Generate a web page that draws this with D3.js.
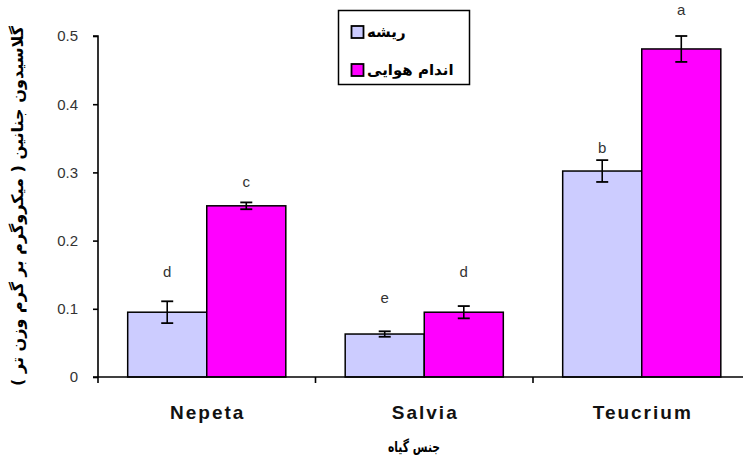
<!DOCTYPE html>
<html><head><meta charset="utf-8">
<script src="https://cdn.jsdelivr.net/npm/d3@7/dist/d3.min.js"></script>
<style>body{margin:0;background:#fff}svg{display:block}</style>
</head><body>
<svg id="c" width="743" height="465"></svg>
<script>
const categories = ["Nepeta", "Salvia", "Teucrium"];
const seriesNames = ["ریشه", "اندام هوایی"];
const rootValues = [0.095, 0.063, 0.302];
const rootErrors = [0.016, 0.004, 0.016];
const rootLetters = ["d", "e", "b"];
const rootLetterY = [0.155, 0.116, 0.336];
const shootValues = [0.251, 0.095, 0.481];
const shootErrors = [0.005, 0.009, 0.019];
const shootLetters = ["c", "d", "a"];
const shootLetterY = [0.287, 0.155, 0.538];
const yTicks = [0, 0.1, 0.2, 0.3, 0.4, 0.5];
const yTitle = "گلاسیدون جنانین ( میکروگرم بر گرم وزن تر )";
const xTitle = "جنس گیاه";
const colors = ["#ccccff", "#ff00ff"];

const svg = d3.select("#c");
const x0 = d3.scaleBand().domain(categories).range([98, 750.5]).paddingInner(0.273).paddingOuter(0.1365);
const x1 = d3.scaleBand().domain([0, 1]).range([0, x0.bandwidth()]);
const y = d3.scaleLinear().domain([0, 0.5]).range([377, 36]);

const series = [
  {vals: rootValues, errs: rootErrors, letters: rootLetters, ly: rootLetterY},
  {vals: shootValues, errs: shootErrors, letters: shootLetters, ly: shootLetterY}
];

series.forEach((s, si) => {
  const g = svg.append("g");
  categories.forEach((c, i) => {
    const bx = x0(c) + x1(si);
    const bw = x1.bandwidth();
    g.append("rect").attr("x", bx).attr("y", y(s.vals[i])).attr("width", bw)
      .attr("height", y(0) - y(s.vals[i])).attr("fill", colors[si])
      .attr("stroke", "#000").attr("stroke-width", 1.5);
    const cx = bx + bw / 2;
    const t = y(s.vals[i] + s.errs[i]), b = y(s.vals[i] - s.errs[i]);
    g.append("line").attr("x1", cx).attr("x2", cx).attr("y1", t).attr("y2", b).attr("stroke", "#000").attr("stroke-width", 1.6);
    [t, b].forEach(yy => g.append("line").attr("x1", cx - 6).attr("x2", cx + 6).attr("y1", yy).attr("y2", yy).attr("stroke", "#000").attr("stroke-width", 1.8));
    g.append("text").attr("x", cx).attr("y", y(s.ly[i])).attr("dy", "0.35em")
      .attr("text-anchor", "middle").attr("font-family", "Liberation Sans, Arial, sans-serif")
      .attr("font-size", 15).attr("fill", "#333").text(s.letters[i]);
  });
});

// y axis
const yAxis = svg.append("g").attr("transform", "translate(98,0)")
  .call(d3.axisLeft(y).tickValues(yTicks).tickSize(5).tickPadding(15).tickFormat(d => d === 0 ? "0" : d3.format(".1f")(d)));
yAxis.select(".domain").attr("d", "M-5,36H0V377").attr("stroke", "#000").attr("stroke-width", 1.6);
yAxis.selectAll(".tick line").attr("stroke", "#000").attr("stroke-width", 1.6);
yAxis.selectAll(".tick text").attr("font-family", "Liberation Sans, Arial, sans-serif").attr("font-size", 15).attr("fill", "#333");

// x axis
const step = x0.step();
const xTickPos = categories.map((c, i) => 98 + step * (i + 1));
const xa = svg.append("g");
xa.append("line").attr("x1", 93).attr("x2", 743).attr("y1", 377).attr("y2", 377).attr("stroke", "#000").attr("stroke-width", 1.6);
xTickPos.forEach(p => xa.append("line").attr("x1", p).attr("x2", p).attr("y1", 377).attr("y2", 383).attr("stroke", "#000").attr("stroke-width", 1.6));
xa.append("line").attr("x1", 98).attr("x2", 98).attr("y1", 377).attr("y2", 383).attr("stroke", "#000").attr("stroke-width", 1.6);
categories.forEach(c => {
  xa.append("text").attr("x", x0(c) + x0.bandwidth() / 2 + 1).attr("y", 412).attr("dy", "0.35em")
    .attr("text-anchor", "middle").attr("font-family", "Liberation Sans, Arial, sans-serif")
    .attr("font-weight", "bold").attr("font-size", 19).attr("letter-spacing", 2).attr("fill", "#111").text(c);
});

svg.append("text").attr("x", 414).attr("y", 447).attr("dy", "0.35em").attr("text-anchor", "middle")
  .attr("font-family", "DejaVu Sans, sans-serif").attr("font-weight", "bold").attr("font-size", 15)
  .attr("textLength", 52).attr("lengthAdjust", "spacingAndGlyphs").text(xTitle);

svg.append("text").attr("transform", "translate(17,206) rotate(-90)").attr("dy", "0.35em")
  .attr("text-anchor", "middle").attr("font-family", "DejaVu Sans, sans-serif").attr("font-weight", "bold")
  .attr("font-size", 16).attr("textLength", 360).attr("lengthAdjust", "spacingAndGlyphs").text(yTitle);

// legend
const lg = svg.append("g");
lg.append("rect").attr("x", 338.5).attr("y", 10.5).attr("width", 131).attr("height", 74).attr("fill", "#fff").attr("stroke", "#000").attr("stroke-width", 1.5);
seriesNames.forEach((n, i) => {
  const yy = 26 + i * 38;
  lg.append("rect").attr("x", 351.5).attr("y", yy).attr("width", 12).attr("height", 12).attr("fill", colors[i]).attr("stroke", "#000").attr("stroke-width", 1.8);
  lg.append("text").attr("x", 367).attr("y", yy + 6).attr("dy", "0.35em").attr("text-anchor", "start")
    .attr("font-family", "DejaVu Sans, sans-serif").attr("font-weight", "bold").attr("font-size", 15).text(n);
});
</script>
</body></html>
